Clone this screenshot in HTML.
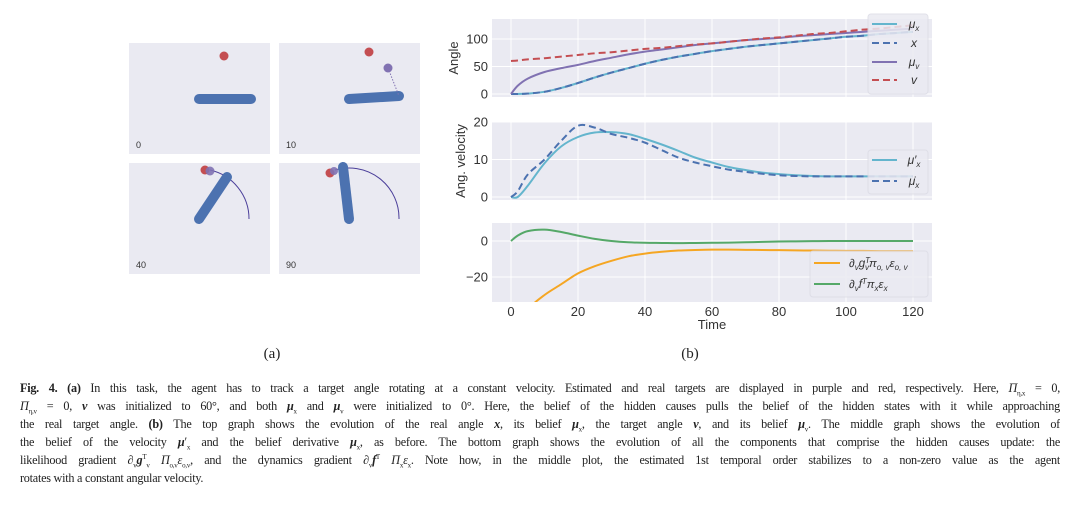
<!DOCTYPE html>
<html><head><meta charset="utf-8"><style>
body{margin:0;width:1080px;height:510px;background:#fff;overflow:hidden;position:relative;font-family:"Liberation Sans",sans-serif}
#cap{position:absolute;left:20px;top:379px;width:1040px;font-family:"Liberation Serif",serif;font-size:12.2px;letter-spacing:-0.25px;line-height:18px;color:#222}
#cap div{height:18px;text-align:justify;text-align-last:justify;white-space:nowrap;overflow:hidden}
#cap div.last{text-align-last:left}
#cap sub,#cap sup{font-size:7px;line-height:0}
</style></head><body>
<svg id="svg" width="1080" height="380" style="position:absolute;left:0;top:0" font-family="Liberation Sans, sans-serif">
<g>
 <rect x="129" y="43" width="141" height="111" fill="#eaeaf2"/>
 <rect x="279" y="43" width="141" height="111" fill="#eaeaf2"/>
 <rect x="129" y="163" width="141" height="111" fill="#eaeaf2"/>
 <rect x="279" y="163" width="141" height="111" fill="#eaeaf2"/>
 <line x1="199" y1="99" x2="251" y2="99" stroke="#4c72b0" stroke-width="10" stroke-linecap="round"/>
 <circle cx="224" cy="56" r="4.5" fill="#c44e52"/>
 <line x1="349" y1="99" x2="399" y2="96" stroke="#4c72b0" stroke-width="10" stroke-linecap="round"/>
 <line x1="388" y1="68" x2="399" y2="96" stroke="#8172b2" stroke-width="1" stroke-dasharray="1.5,1.5"/>
 <circle cx="369" cy="52" r="4.5" fill="#c44e52"/><circle cx="388" cy="68" r="4.5" fill="#8172b2"/>
 <path d="M249,219 A50,50 0 0 0 210,170" fill="none" stroke="#4b3f9a" stroke-width="1"/>
 <line x1="199" y1="219" x2="227" y2="177" stroke="#4c72b0" stroke-width="10" stroke-linecap="round"/>
 <circle cx="205" cy="170" r="4.5" fill="#c44e52"/><circle cx="210" cy="171" r="4.5" fill="#8172b2" opacity="0.9"/>
 <path d="M399,219 A50,50 0 0 0 335,170" fill="none" stroke="#4b3f9a" stroke-width="1"/>
 <line x1="349" y1="219" x2="343" y2="167" stroke="#4c72b0" stroke-width="10" stroke-linecap="round"/>
 <circle cx="330" cy="173" r="4.5" fill="#c44e52"/><circle cx="334" cy="171" r="4" fill="#8172b2" opacity="0.9"/>
 <g font-size="9" fill="#333"><text x="136" y="148">0</text><text x="286" y="148">10</text><text x="136" y="268">40</text><text x="286" y="268">90</text></g>
</g>
<text x="272" y="358" font-family="Liberation Serif, serif" font-size="15" fill="#222" text-anchor="middle">(a)</text>
<text x="690" y="358" font-family="Liberation Serif, serif" font-size="15" fill="#222" text-anchor="middle">(b)</text>
<g id="charts"></g>
</svg>
<div id="cap">
<div><b>Fig. 4.</b> <b>(a)</b> In this task, the agent has to track a target angle rotating at a constant velocity. Estimated and real targets are displayed in purple and red, respectively. Here, <i>Π</i><sub>η,x</sub> = 0,</div>
<div><i>Π</i><sub>η,v</sub> = 0, <b><i>v</i></b> was initialized to 60°, and both <b><i>μ</i></b><sub>x</sub> and <b><i>μ</i></b><sub>v</sub> were initialized to 0°. Here, the belief of the hidden causes pulls the belief of the hidden states with it while approaching</div>
<div>the real target angle. <b>(b)</b> The top graph shows the evolution of the real angle <b><i>x</i></b>, its belief <b><i>μ</i></b><sub>x</sub>, the target angle <b><i>v</i></b>, and its belief <b><i>μ</i></b><sub>v</sub>. The middle graph shows the evolution of</div>
<div>the belief of the velocity <b><i>μ</i></b>′<sub>x</sub> and the belief derivative <b><i>μ</i></b><sub>x</sub>, as before. The bottom graph shows the evolution of all the components that comprise the hidden causes update: the</div>
<div>likelihood gradient ∂<sub>v</sub><b><i>g</i></b><sup>T</sup><sub>v</sub> <i>Π</i><sub>o,v</sub><i>ε</i><sub>o,v</sub>, and the dynamics gradient ∂<sub>v</sub><b><i>f</i></b><sup>T</sup> <i>Π</i><sub>x</sub><i>ε</i><sub>x</sub>. Note how, in the middle plot, the estimated 1st temporal order stabilizes to a non-zero value as the agent</div>
<div class="last">rotates with a constant angular velocity.</div>
</div>
<script>
const times=[0,2,5,10,15,20,25,30,35,40,45,50,55,60,65,70,75,80,85,90,95,100,105,110,115,120];
const muX=[0,0.1,0.8,4,11,20,30,39,47,55,62,68,73,78,82,86,89,92,95,98,101,104,106,109,111,113];
const xReal=[0,0.1,0.8,4,11,20,30,39,47,55,62,68,73,78,82,86,89,92,95,98,101,104,106,109,111,113];
const muV=[0,15,28,40,47,53,60,66,72,77,81,85,89,92,95,98,100,102,105,107,109,111,113,115,117,119];
const vTarget=[60,61,63,65,68,71,74,76,79,82,84,87,90,92,95,98,101,103,106,109,111,114,117,119,122,125];
const muXPrime=[0,0,3,9,13.5,16,17.2,17.3,16.8,15.5,14,12.3,10.5,9.2,8,7.2,6.5,6.1,5.8,5.6,5.5,5.5,5.5,5.5,5.5,5.5];
const muXDot=[0,1.5,6,10,15,19,18.5,16.8,15.8,14.5,12.5,10.5,9.2,8.2,7.3,6.7,6.2,5.8,5.6,5.5,5.5,5.5,5.5,5.5,5.5,5.5];
const gradG=[-60,-48,-38,-30,-24,-18,-14,-11,-8.5,-7,-6,-5.3,-5,-4.8,-4.8,-4.9,-5,-5.1,-5.2,-5.3,-5.4,-5.5,-5.5,-5.6,-5.6,-5.6];
const gradF=[0,3,5.5,6.3,5,3,1.2,0,-0.7,-1,-1.1,-1.2,-1.1,-1,-0.9,-0.7,-0.5,-0.3,-0.2,-0.1,0,0,0,0,0,0];
const xTicks=[0,20,40,60,80,100,120];
const ns='http://www.w3.org/2000/svg';
const root=document.getElementById('charts');
const X0=492,X1=932;
const sx=t=>511+(t)*(913-511)/120;
function mk(tag,attrs,parent){const e=document.createElementNS(ns,tag);for(const k in attrs)e.setAttribute(k,attrs[k]);(parent||root).appendChild(e);return e;}
function path(vals,sy){let p=[];for(let i=0;i<times.length;i++)p.push([sx(times[i]),sy(vals[i])]);
 let d='M'+p[0][0]+','+p[0][1];
 for(let i=0;i<p.length-1;i++){const a=p[Math.max(0,i-1)],b=p[i],c=p[i+1],e=p[Math.min(p.length-1,i+2)];
 d+=' C'+(b[0]+(c[0]-a[0])/6)+','+(b[1]+(c[1]-a[1])/6)+' '+(c[0]-(e[0]-b[0])/6)+','+(c[1]-(e[1]-b[1])/6)+' '+c[0]+','+c[1];}
 return d;}
function panel(name,top,bot,sy,yT,ylab,ylabX){
 const g=mk('g',{});
 
 
 const cid='clip'+name;const cp=mk('clipPath',{id:cid},g);mk('rect',{x:X0,y:top,width:X1-X0,height:bot-top},cp);
 mk('rect',{x:X0,y:top,width:X1-X0,height:bot-top,fill:'#eaeaf2'},g);
 xTicks.forEach(t=>mk('line',{x1:sx(t),x2:sx(t),y1:top,y2:bot,stroke:'#fff','stroke-width':1},g));
 yT.forEach(v=>{mk('line',{x1:X0,x2:X1,y1:sy(v),y2:sy(v),stroke:'#fff','stroke-width':1},g);
  const t=mk('text',{x:X0-4,y:sy(v)+4.5,'text-anchor':'end','font-size':13,fill:'#333'},g);t.textContent=(v<0?'\u2212'+(-v):v);});
 if(ylab){const t=mk('text',{x:ylabX,y:(top+bot)/2,'text-anchor':'middle','font-size':13,fill:'#333',transform:`rotate(-90 ${ylabX} ${(top+bot)/2})`},g);t.textContent=ylab;}
 const lg=mk('g',{'clip-path':`url(#${cid})`},g);return lg;}
function series(g,name,vals,sy,color,dash,w){const p=mk('path',{d:path(vals,sy),fill:'none',stroke:color,'stroke-width':w||2,'stroke-dasharray':dash||'none'},g);
 
 }
function legend(x,y,w,h,items){const g=mk('g',{});
 
 
 mk('rect',{x,y,width:w,height:h,fill:'#eaeaf2',stroke:'#dcdce6',rx:3,opacity:0.85},g);
 items.forEach(it=>{mk('line',{x1:x+4,x2:x+29,y1:it.y,y2:it.y,stroke:it.c,'stroke-width':2,'stroke-dasharray':it.d||'none'},g);
  const t=mk('text',{x:x+w-14,y:it.y+4,'font-size':12,'font-style':'italic',fill:'#333','text-anchor':'middle'},g);t.innerHTML=it.l;});}
const sy1=v=>94-v*0.55;
let g1=panel('angle-plot',19,97,sy1,[0,50,100],'Angle',458);
series(g1,'mu-x-line',muX,sy1,'#64b5cd');
series(g1,'x-line',xReal,sy1,'#4c72b0','7,4');
series(g1,'mu-v-line',muV,sy1,'#8172b2');
series(g1,'v-line',vTarget,sy1,'#c44e52','7,4');
legend(868,14,60,80,[{y:24,c:'#64b5cd',l:'μ<tspan font-size="8" dy="3">x</tspan>'},{y:43,c:'#4c72b0',d:'7,4',l:'x'},{y:62,c:'#8172b2',l:'μ<tspan font-size="8" dy="3">v</tspan>'},{y:80,c:'#c44e52',d:'7,4',l:'v'}]);
const sy2=v=>197-v*3.75;
let g2=panel('velocity-plot',122,200,sy2,[0,10,20],'Ang. velocity',465);
series(g2,'mu-x-prime-line',muXPrime,sy2,'#64b5cd');
series(g2,'mu-x-dot-line',muXDot,sy2,'#4c72b0','7,4');
legend(868,150,60,44,[{y:160,c:'#64b5cd',l:'μ′<tspan font-size="8" dy="3">x</tspan>'},{y:181,c:'#4c72b0',d:'7,4',l:'μ̇<tspan font-size="8" dy="3">x</tspan>'}]);
const sy3=v=>241-v*1.8;
let g3=panel('gradient-plot',223,302,sy3,[0,-20],null,0);
series(g3,'likelihood-gradient-line',gradG,sy3,'#f5a623');
series(g3,'dynamics-gradient-line',gradF,sy3,'#55a868');
(function(){const g=mk('g',{});
 
 
 mk('rect',{x:810,y:251,width:118,height:46,fill:'#eaeaf2',stroke:'#dcdce6',rx:3,opacity:0.85},g);
 mk('line',{x1:814,x2:840,y1:263,y2:263,stroke:'#f5a623','stroke-width':2},g);
 mk('line',{x1:814,x2:840,y1:284,y2:284,stroke:'#55a868','stroke-width':2},g);
 let t=mk('text',{x:849,y:267,'font-size':11.5,'font-style':'italic',fill:'#333'},g);t.innerHTML='∂<tspan font-size="8" dy="3">v</tspan><tspan dy="-3">g</tspan><tspan font-size="8" dy="-4">T</tspan><tspan font-size="8" dx="-5" dy="7">v</tspan><tspan dy="-3">π</tspan><tspan font-size="8" dy="3">o, v</tspan><tspan dy="-3">ε</tspan><tspan font-size="8" dy="3">o, v</tspan>';
 t=mk('text',{x:849,y:288,'font-size':11.5,'font-style':'italic',fill:'#333'},g);t.innerHTML='∂<tspan font-size="8" dy="3">v</tspan><tspan dy="-3">f</tspan><tspan font-size="8" dy="-4">T</tspan><tspan dy="4">π</tspan><tspan font-size="8" dy="3">x</tspan><tspan dy="-3">ε</tspan><tspan font-size="8" dy="3">x</tspan>';})();
xTicks.forEach(t=>{const e=mk('text',{x:sx(t),y:316,'text-anchor':'middle','font-size':13,fill:'#333'});
 
 
 e.textContent=t;});
const xl=mk('text',{x:712,y:329,'text-anchor':'middle','font-size':13,fill:'#333'});


xl.textContent='Time';
</script>
</body></html>
